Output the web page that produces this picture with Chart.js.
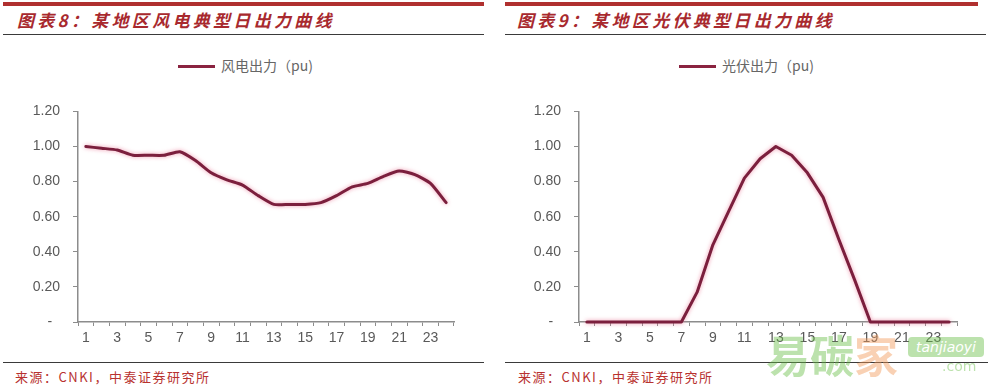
<!DOCTYPE html>
<html>
<head>
<meta charset="utf-8">
<script src="https://cdn.jsdelivr.net/npm/chart.js@4"></script>
<style>
  html, body { margin: 0; padding: 0; background: #fff; }
  body { width: 988px; height: 388px; position: relative; overflow: hidden; }
  .abs { position: absolute; }
  .bar { height: 4px; background: #b0302f; }
  .thin { height: 1px; background: #3a3a3a; }
  .title { font-family: "Noto Sans CJK SC", sans-serif; font-weight: 700; font-style: italic;
           font-size: 17px; letter-spacing: 3.3px; color: #a8292e; white-space: nowrap; line-height: 20px; }
  .legend { font-family: "Noto Sans CJK SC", serif; font-size: 14px; color: #666; white-space: nowrap; line-height: 16px; }
  .legend .ln { display: inline-block; width: 37px; height: 3px; background: #8a2340; vertical-align: middle; margin-right: 6px; position: relative; top: -1px; }
  .src { font-family: "Noto Sans CJK SC", sans-serif; font-size: 13px; letter-spacing: 1.5px; color: #b8322f; white-space: nowrap; line-height: 16px; }
  canvas { position: absolute; }
  .wm { font-family: "Noto Sans CJK SC", sans-serif; font-weight: 700; white-space: nowrap; opacity: 0.45; }
</style>
</head>
<body>
  <!-- left panel frame -->
  <div class="abs bar" style="left:3px; top:2px; width:481px;"></div>
  <div class="abs title" style="left:17px; top:10px;">图表8：某地区风电典型日出力曲线</div>
  <div class="abs thin" style="left:3px; top:34px; width:481px;"></div>
  <div class="abs legend" style="left:178px; top:57px;"><span class="ln"></span>风电出力（pu)</div>
  <div class="abs thin" style="left:3px; top:362px; width:481px;"></div>
  <div class="abs src" style="left:15px; top:369px;">来源：CNKI，中泰证券研究所</div>

  <!-- right panel frame -->
  <div class="abs bar" style="left:505px; top:2px; width:473px;"></div>
  <div class="abs title" style="left:517px; top:10px;">图表9：某地区光伏典型日出力曲线</div>
  <div class="abs thin" style="left:505px; top:34px; width:481px;"></div>
  <div class="abs legend" style="left:679px; top:57px;"><span class="ln"></span>光伏出力（pu)</div>
  <div class="abs thin" style="left:505px; top:362px; width:483px;"></div>
  <div class="abs src" style="left:518px; top:369px;">来源：CNKI，中泰证券研究所</div>

  <canvas id="windChart" width="494" height="270" style="left:0px; top:90px; width:494px; height:270px;"></canvas>
  <canvas id="solarChart" width="487" height="270" style="left:501px; top:90px; width:487px; height:270px;"></canvas>

  <!-- watermark -->
  <div class="abs wm" style="left:766px; top:326px; font-size:44px; line-height:56px; color:#6cbf4a;">易碳<span style="color:#f29a5a;">家</span></div>
  <div class="abs wm" style="left:908px; top:337px; width:76px; height:20px; background:#6cbf4a; border-radius:4px; color:#fff; font-family:'DejaVu Sans',sans-serif; font-style:italic; font-size:14px; line-height:20px; text-align:center; font-weight:400;">tanjiaoyi</div>
  <div class="abs wm" style="left:942px; top:358px; color:#6cbf4a; font-family:'DejaVu Sans',sans-serif; font-size:14px; line-height:16px; font-weight:400;">.com</div>

<script>
// ---- data ----
const hours = ['1','2','3','4','5','6','7','8','9','10','11','12','13','14','15','16','17','18','19','20','21','22','23','24'];
const windOutput = [1.00, 0.99, 0.98, 0.95, 0.95, 0.95, 0.97, 0.92, 0.85, 0.81, 0.78, 0.72, 0.67, 0.67, 0.67, 0.68, 0.72, 0.77, 0.79, 0.83, 0.86, 0.84, 0.79, 0.68];
const solarOutput = [0, 0, 0, 0, 0, 0, 0, 0.17, 0.44, 0.63, 0.82, 0.93, 1.00, 0.95, 0.85, 0.71, 0.47, 0.24, 0, 0, 0, 0, 0, 0];
const yTickValues = [0, 0.2, 0.4, 0.6, 0.8, 1.0, 1.2];
const yTickLabels = ['-  ', '0.20', '0.40', '0.60', '0.80', '1.00', '1.20'];
const windLabel = '风电出力（pu)';
const solarLabel = '光伏出力（pu)';

const lineColor = '#7b1f3d';
const axisColor = '#8c8c8c';
const tickFont = { family: '"Liberation Sans", Arial, sans-serif', size: 14 };
const tickColor = '#595959';

const glowPlugin = {
  id: 'glow',
  beforeDatasetDraw(chart) {
    const ctx = chart.ctx;
    ctx.save();
    ctx.shadowColor = 'rgba(235, 120, 150, 0.75)';
    ctx.shadowBlur = 4;
  },
  afterDatasetDraw(chart) {
    chart.ctx.restore();
  }
};

function makeChart(id, label, data, tension, padRight) {
  return new Chart(document.getElementById(id), {
    type: 'line',
    data: {
      labels: hours,
      datasets: [{
        label: label,
        data: data,
        borderColor: lineColor,
        backgroundColor: lineColor,
        borderWidth: 3,
        pointRadius: 0,
        tension: tension,
        clip: 6,
        borderJoinStyle: 'round',
        borderCapStyle: 'round'
      }]
    },
    options: {
      responsive: false,
      animation: false,
      events: [],
      layout: { padding: { left: 0, right: padRight, top: 10, bottom: 8 } },
      plugins: { legend: { display: false }, tooltip: { enabled: false } },
      scales: {
        x: {
          type: 'category',
          offset: true,
          grid: { display: true, offset: true, drawOnChartArea: false, drawTicks: true, tickLength: 4, color: axisColor, lineWidth: 1 },
          border: { display: true, color: axisColor, width: 1.5 },
          ticks: {
            autoSkip: false, maxRotation: 0, minRotation: 0, padding: 4,
            color: tickColor, font: tickFont,
            callback: function(val, idx) { return idx % 2 === 0 ? hours[idx] : ''; }
          },
          afterFit: function(scale) { scale.height = 30; }
        },
        y: {
          min: 0, max: 1.2,
          afterBuildTicks: function(scale) { scale.ticks = yTickValues.map(v => ({ value: v })); },
          grid: { display: true, drawOnChartArea: false, drawTicks: true, tickLength: 5, color: axisColor, lineWidth: 1 },
          border: { display: true, color: axisColor, width: 1.5 },
          ticks: {
            padding: 13, color: tickColor, font: tickFont,
            callback: function(val) {
              const i = yTickValues.findIndex(v => Math.abs(v - val) < 1e-6);
              return i >= 0 ? yTickLabels[i] : '';
            }
          },
          afterFit: function(scale) { scale.width = 78; }
        }
      }
    },
    plugins: [glowPlugin]
  });
}

makeChart('windChart', windLabel, windOutput, 0.2, 40);
makeChart('solarChart', solarLabel, solarOutput, 0, 31);
</script>
</body>
</html>
